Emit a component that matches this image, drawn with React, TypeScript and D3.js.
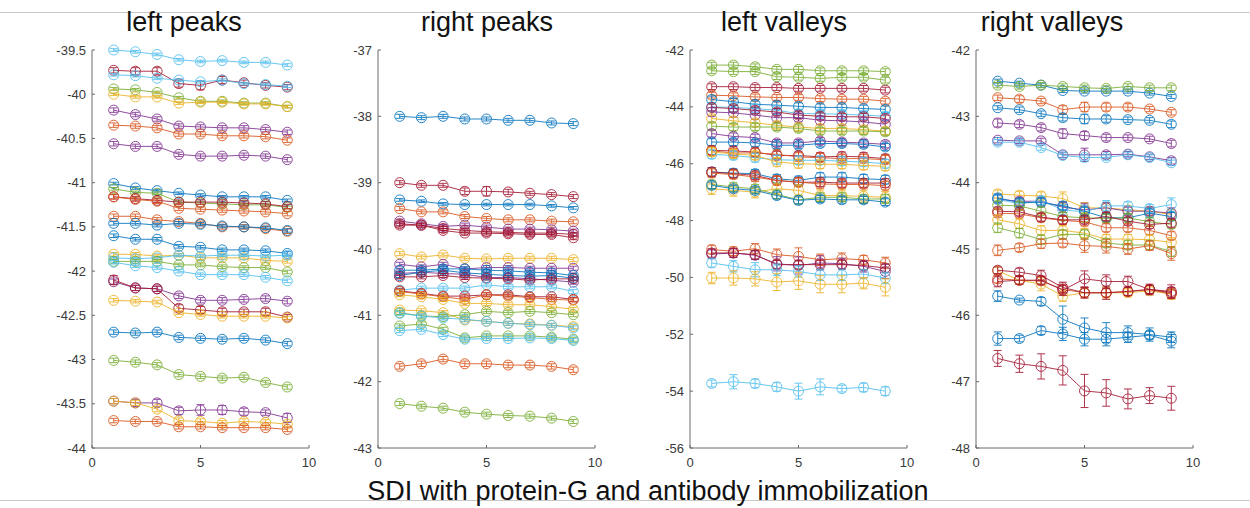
import React from "react";
import * as d3 from "d3";

// MATLAB default line colours
const COLORS: Record<string, string> = {
  b: "#0072BD",
  o: "#D95319",
  y: "#EDB120",
  p: "#7E2F8E",
  g: "#77AC30",
  c: "#4DBEEE",
  r: "#A2142F",
};

type Series = { c: string; v: number[]; e: number | number[] };

const steps = [1, 2, 3, 4, 5, 6, 7, 8, 9];
const xTicks = [0, 5, 10];

const panelTitles = ["left peaks", "right peaks", "left valleys", "right valleys"];
const figureLabel = "SDI with protein-G and antibody immobilization";

const leftPeaksTicks = [-39.5, -40, -40.5, -41, -41.5, -42, -42.5, -43, -43.5, -44];
const rightPeaksTicks = [-37, -38, -39, -40, -41, -42, -43];
const leftValleysTicks = [-42, -44, -46, -48, -50, -52, -54, -56];
const rightValleysTicks = [-42, -43, -44, -45, -46, -47, -48];

const leftPeaks: Series[] = [
  { c: "c", v: [-39.5, -39.52, -39.55, -39.61, -39.63, -39.62, -39.64, -39.64, -39.67], e: 0.015 },
  { c: "r", v: [-39.73, -39.74, -39.74, -39.88, -39.9, -39.84, -39.87, -39.9, -39.92], e: [0.03, 0.04, 0.04, 0.04, 0.05, 0.04, 0.03, 0.03, 0.03] },
  { c: "c", v: [-39.78, -39.79, -39.82, -39.84, -39.86, -39.84, -39.88, -39.89, -39.91], e: 0.015 },
  { c: "g", v: [-39.94, -39.95, -39.98, -40.04, -40.08, -40.08, -40.1, -40.1, -40.14], e: 0.015 },
  { c: "y", v: [-40.0, -40.03, -40.03, -40.1, -40.09, -40.09, -40.11, -40.11, -40.14], e: 0.015 },
  { c: "p", v: [-40.18, -40.23, -40.28, -40.36, -40.37, -40.38, -40.38, -40.4, -40.43], e: 0.025 },
  { c: "o", v: [-40.35, -40.36, -40.38, -40.45, -40.45, -40.47, -40.47, -40.48, -40.52], e: 0.025 },
  { c: "p", v: [-40.56, -40.59, -40.59, -40.68, -40.7, -40.7, -40.69, -40.7, -40.74], e: 0.025 },
  { c: "b", v: [-41.01, -41.06, -41.09, -41.12, -41.14, -41.16, -41.16, -41.16, -41.2], e: 0.015 },
  { c: "g", v: [-41.07, -41.11, -41.12, -41.22, -41.23, -41.24, -41.25, -41.25, -41.28], e: 0.015 },
  { c: "r", v: [-41.16, -41.18, -41.2, -41.22, -41.22, -41.22, -41.23, -41.24, -41.27], e: 0.025 },
  { c: "o", v: [-41.16, -41.19, -41.21, -41.29, -41.3, -41.31, -41.32, -41.33, -41.35], e: 0.025 },
  { c: "o", v: [-41.38, -41.38, -41.42, -41.44, -41.46, -41.5, -41.5, -41.52, -41.55], e: 0.025 },
  { c: "b", v: [-41.46, -41.46, -41.48, -41.46, -41.47, -41.49, -41.5, -41.51, -41.54], e: 0.02 },
  { c: "b", v: [-41.6, -41.64, -41.64, -41.72, -41.73, -41.76, -41.76, -41.77, -41.8], e: 0.02 },
  { c: "y", v: [-41.81, -41.81, -41.83, -41.82, -41.85, -41.85, -41.85, -41.88, -41.89], e: 0.02 },
  { c: "c", v: [-41.85, -41.86, -41.85, -41.82, -41.83, -41.82, -41.82, -41.83, -41.82], e: 0.015 },
  { c: "g", v: [-41.89, -41.89, -41.89, -41.93, -41.93, -41.95, -41.96, -41.96, -42.01], e: 0.02 },
  { c: "c", v: [-41.9, -41.94, -41.96, -42.0, -42.04, -42.04, -42.04, -42.07, -42.11], e: 0.02 },
  { c: "p", v: [-42.12, -42.19, -42.2, -42.28, -42.33, -42.33, -42.32, -42.31, -42.34], e: 0.03 },
  { c: "r", v: [-42.1, -42.19, -42.2, -42.42, -42.44, -42.46, -42.46, -42.46, -42.52], e: [0.05, 0.03, 0.03, 0.04, 0.04, 0.04, 0.03, 0.04, 0.03] },
  { c: "y", v: [-42.33, -42.34, -42.35, -42.47, -42.49, -42.51, -42.51, -42.51, -42.53], e: 0.02 },
  { c: "b", v: [-42.69, -42.7, -42.69, -42.75, -42.76, -42.77, -42.76, -42.78, -42.82], e: 0.025 },
  { c: "g", v: [-43.01, -43.03, -43.06, -43.17, -43.19, -43.21, -43.2, -43.26, -43.31], e: 0.025 },
  { c: "p", v: [-43.47, -43.49, -43.49, -43.58, -43.57, -43.57, -43.59, -43.6, -43.66], e: [0.03, 0.04, 0.04, 0.04, 0.06, 0.05, 0.04, 0.03, 0.05] },
  { c: "y", v: [-43.47, -43.49, -43.56, -43.69, -43.7, -43.72, -43.7, -43.71, -43.73], e: 0.03 },
  { c: "o", v: [-43.69, -43.7, -43.7, -43.76, -43.76, -43.77, -43.77, -43.77, -43.79], e: 0.025 },
];

const rightPeaks: Series[] = [
  { c: "b", v: [-38.0, -38.02, -38.0, -38.04, -38.04, -38.06, -38.06, -38.1, -38.11], e: 0.03 },
  { c: "r", v: [-39.0, -39.04, -39.04, -39.13, -39.13, -39.14, -39.16, -39.18, -39.21], e: [0.03, 0.03, 0.03, 0.05, 0.07, 0.04, 0.03, 0.03, 0.03] },
  { c: "b", v: [-39.26, -39.28, -39.32, -39.33, -39.33, -39.33, -39.33, -39.35, -39.38], e: 0.02 },
  { c: "o", v: [-39.39, -39.44, -39.44, -39.51, -39.54, -39.56, -39.56, -39.58, -39.59], e: 0.03 },
  { c: "p", v: [-39.58, -39.62, -39.66, -39.64, -39.67, -39.7, -39.7, -39.71, -39.73], e: 0.03 },
  { c: "r", v: [-39.62, -39.64, -39.69, -39.72, -39.74, -39.75, -39.76, -39.76, -39.78], e: 0.03 },
  { c: "r", v: [-39.64, -39.64, -39.72, -39.76, -39.76, -39.77, -39.78, -39.78, -39.83], e: 0.03 },
  { c: "y", v: [-40.07, -40.12, -40.09, -40.14, -40.15, -40.14, -40.14, -40.14, -40.16], e: 0.03 },
  { c: "p", v: [-40.23, -40.27, -40.23, -40.3, -40.28, -40.28, -40.29, -40.29, -40.29], e: 0.03 },
  { c: "b", v: [-40.32, -40.32, -40.3, -40.3, -40.32, -40.33, -40.35, -40.36, -40.4], e: 0.03 },
  { c: "p", v: [-40.37, -40.35, -40.37, -40.38, -40.43, -40.43, -40.45, -40.47, -40.5], e: 0.03 },
  { c: "b", v: [-40.4, -40.35, -40.32, -40.36, -40.38, -40.4, -40.41, -40.4, -40.44], e: 0.03 },
  { c: "r", v: [-40.42, -40.42, -40.4, -40.43, -40.44, -40.45, -40.47, -40.45, -40.45], e: 0.03 },
  { c: "c", v: [-40.62, -40.59, -40.59, -40.59, -40.54, -40.57, -40.57, -40.57, -40.64], e: 0.03 },
  { c: "r", v: [-40.63, -40.67, -40.71, -40.71, -40.69, -40.69, -40.72, -40.72, -40.76], e: 0.03 },
  { c: "o", v: [-40.64, -40.68, -40.72, -40.76, -40.69, -40.71, -40.73, -40.76, -40.77], e: 0.03 },
  { c: "y", v: [-40.69, -40.72, -40.76, -40.82, -40.82, -40.84, -40.84, -40.87, -40.91], e: 0.03 },
  { c: "y", v: [-40.92, -40.93, -40.96, -41.07, -41.09, -41.12, -41.13, -41.15, -41.17], e: 0.03 },
  { c: "g", v: [-40.96, -41.01, -41.02, -40.99, -40.94, -40.96, -40.94, -40.96, -40.99], e: 0.03 },
  { c: "c", v: [-40.97, -41.01, -41.04, -41.06, -41.09, -41.12, -41.14, -41.15, -41.19], e: 0.03 },
  { c: "g", v: [-41.16, -41.13, -41.21, -41.34, -41.31, -41.31, -41.31, -41.33, -41.36], e: 0.03 },
  { c: "c", v: [-41.23, -41.21, -41.29, -41.36, -41.35, -41.35, -41.34, -41.35, -41.38], e: 0.03 },
  { c: "o", v: [-41.77, -41.73, -41.66, -41.73, -41.73, -41.75, -41.75, -41.77, -41.82], e: 0.04 },
  { c: "g", v: [-42.33, -42.37, -42.4, -42.46, -42.49, -42.51, -42.52, -42.55, -42.6], e: 0.03 },
];

const leftValleys: Series[] = [
  { c: "g", v: [-42.53, -42.53, -42.59, -42.68, -42.68, -42.73, -42.73, -42.73, -42.76], e: 0.1 },
  { c: "g", v: [-42.73, -42.76, -42.76, -42.94, -42.96, -43.0, -42.96, -42.96, -43.06], e: 0.1 },
  { c: "r", v: [-43.29, -43.29, -43.32, -43.32, -43.35, -43.35, -43.35, -43.35, -43.41], e: 0.1 },
  { c: "o", v: [-43.59, -43.61, -43.65, -43.67, -43.67, -43.71, -43.73, -43.73, -43.8], e: 0.1 },
  { c: "b", v: [-43.74, -43.82, -43.91, -43.94, -43.98, -44.02, -44.02, -44.06, -44.09], e: 0.12 },
  { c: "c", v: [-44.0, -44.02, -44.06, -44.12, -44.24, -44.24, -44.26, -44.29, -44.33], e: 0.15 },
  { c: "r", v: [-44.02, -44.06, -44.12, -44.18, -44.29, -44.33, -44.35, -44.35, -44.41], e: 0.12 },
  { c: "p", v: [-44.18, -44.21, -44.29, -44.38, -44.38, -44.47, -44.49, -44.53, -44.61], e: 0.15 },
  { c: "y", v: [-44.41, -44.49, -44.56, -44.65, -44.71, -44.76, -44.76, -44.8, -44.85], e: 0.12 },
  { c: "g", v: [-44.68, -44.71, -44.71, -44.71, -44.76, -44.85, -44.85, -44.85, -44.88], e: 0.12 },
  { c: "p", v: [-44.94, -45.04, -45.08, -45.27, -45.27, -45.2, -45.24, -45.27, -45.32], e: 0.12 },
  { c: "b", v: [-45.24, -45.24, -45.27, -45.35, -45.35, -45.29, -45.29, -45.32, -45.41], e: 0.12 },
  { c: "r", v: [-45.53, -45.55, -45.59, -45.71, -45.71, -45.76, -45.74, -45.76, -45.82], e: 0.15 },
  { c: "o", v: [-45.55, -45.62, -45.62, -45.67, -45.76, -45.79, -45.82, -45.82, -45.86], e: 0.15 },
  { c: "c", v: [-45.67, -45.71, -45.79, -45.86, -45.88, -45.88, -45.91, -45.94, -46.0], e: 0.15 },
  { c: "y", v: [-45.59, -45.65, -45.71, -45.94, -46.0, -46.02, -46.02, -46.06, -46.09], e: 0.15 },
  { c: "b", v: [-46.29, -46.33, -46.35, -46.53, -46.59, -46.47, -46.47, -46.53, -46.56], e: 0.15 },
  { c: "r", v: [-46.29, -46.35, -46.41, -46.59, -46.65, -46.65, -46.68, -46.68, -46.68], e: 0.15 },
  { c: "o", v: [-46.33, -46.38, -46.47, -46.59, -46.65, -46.71, -46.73, -46.73, -46.77], e: 0.15 },
  { c: "y", v: [-46.88, -46.94, -47.0, -46.88, -46.94, -47.12, -47.12, -47.15, -47.18], e: 0.2 },
  { c: "g", v: [-46.73, -46.82, -46.88, -47.08, -47.27, -47.18, -47.18, -47.24, -47.24], e: 0.15 },
  { c: "b", v: [-46.76, -46.88, -46.94, -47.12, -47.29, -47.24, -47.27, -47.27, -47.35], e: 0.12 },
  { c: "o", v: [-49.02, -49.08, -48.99, -49.2, -49.26, -49.38, -49.34, -49.38, -49.49], e: [0.15, 0.15, 0.18, 0.2, 0.3, 0.2, 0.2, 0.15, 0.2] },
  { c: "p", v: [-49.18, -49.14, -49.22, -49.52, -49.58, -49.49, -49.52, -49.61, -49.79], e: [0.15, 0.15, 0.15, 0.25, 0.3, 0.25, 0.2, 0.2, 0.25] },
  { c: "r", v: [-49.14, -49.14, -49.2, -49.55, -49.55, -49.55, -49.55, -49.58, -49.67], e: 0.15 },
  { c: "c", v: [-49.49, -49.61, -49.73, -49.73, -49.79, -49.91, -49.91, -49.88, -50.02], e: [0.15, 0.2, 0.25, 0.2, 0.2, 0.2, 0.2, 0.15, 0.2] },
  { c: "y", v: [-50.02, -50.02, -50.05, -50.16, -50.12, -50.24, -50.24, -50.2, -50.35], e: [0.2, 0.25, 0.25, 0.3, 0.3, 0.3, 0.3, 0.2, 0.3] },
  { c: "c", v: [-53.73, -53.67, -53.73, -53.85, -54.0, -53.85, -53.91, -53.87, -54.0], e: [0.12, 0.25, 0.15, 0.15, 0.28, 0.28, 0.12, 0.15, 0.15] },
];

const rightValleys: Series[] = [
  { c: "b", v: [-42.47, -42.5, -42.53, -42.61, -42.62, -42.62, -42.62, -42.65, -42.7], e: 0.03 },
  { c: "g", v: [-42.53, -42.55, -42.53, -42.55, -42.57, -42.58, -42.55, -42.57, -42.57], e: 0.04 },
  { c: "o", v: [-42.72, -42.74, -42.77, -42.9, -42.86, -42.86, -42.86, -42.89, -42.94], e: [0.04, 0.05, 0.04, 0.06, 0.07, 0.06, 0.05, 0.04, 0.04] },
  { c: "b", v: [-42.87, -42.9, -42.96, -43.02, -43.04, -43.04, -43.05, -43.06, -43.12], e: [0.03, 0.04, 0.04, 0.05, 0.07, 0.05, 0.04, 0.04, 0.05] },
  { c: "p", v: [-43.1, -43.12, -43.17, -43.26, -43.29, -43.32, -43.32, -43.34, -43.41], e: [0.06, 0.05, 0.05, 0.07, 0.06, 0.05, 0.04, 0.04, 0.05] },
  { c: "p", v: [-43.36, -43.37, -43.37, -43.58, -43.58, -43.58, -43.57, -43.61, -43.67], e: [0.04, 0.04, 0.04, 0.04, 0.1, 0.05, 0.04, 0.04, 0.05] },
  { c: "c", v: [-43.39, -43.39, -43.47, -43.59, -43.62, -43.62, -43.58, -43.62, -43.7], e: 0.04 },
  { c: "y", v: [-44.17, -44.19, -44.2, -44.24, -44.38, -44.38, -44.41, -44.43, -44.48], e: [0.06, 0.06, 0.06, 0.1, 0.08, 0.06, 0.06, 0.06, 0.08] },
  { c: "p", v: [-44.25, -44.28, -44.28, -44.37, -44.41, -44.38, -44.43, -44.43, -44.46], e: [0.06, 0.06, 0.06, 0.08, 0.1, 0.08, 0.06, 0.06, 0.08] },
  { c: "c", v: [-44.25, -44.32, -44.27, -44.41, -44.44, -44.35, -44.35, -44.39, -44.33], e: [0.06, 0.06, 0.06, 0.08, 0.1, 0.08, 0.06, 0.06, 0.1] },
  { c: "b", v: [-44.23, -44.3, -44.3, -44.35, -44.43, -44.53, -44.53, -44.46, -44.51], e: 0.06 },
  { c: "g", v: [-44.34, -44.35, -44.43, -44.51, -44.53, -44.54, -44.53, -44.59, -44.63], e: 0.06 },
  { c: "o", v: [-44.46, -44.47, -44.53, -44.57, -44.59, -44.68, -44.68, -44.72, -44.8], e: 0.06 },
  { c: "r", v: [-44.43, -44.44, -44.52, -44.56, -44.56, -44.51, -44.58, -44.63, -44.61], e: 0.06 },
  { c: "y", v: [-44.56, -44.62, -44.72, -44.72, -44.76, -44.85, -44.85, -44.86, -44.9], e: 0.07 },
  { c: "g", v: [-44.68, -44.76, -44.86, -44.78, -44.78, -44.91, -44.94, -44.94, -45.04], e: 0.07 },
  { c: "o", v: [-45.02, -44.98, -44.92, -44.91, -44.95, -44.96, -45.0, -44.95, -45.07], e: [0.08, 0.06, 0.07, 0.06, 0.1, 0.1, 0.08, 0.07, 0.1] },
  { c: "y", v: [-45.33, -45.47, -45.53, -45.71, -45.66, -45.66, -45.66, -45.63, -45.68], e: [0.06, 0.06, 0.1, 0.08, 0.08, 0.08, 0.06, 0.06, 0.08] },
  { c: "o", v: [-45.45, -45.47, -45.48, -45.61, -45.66, -45.66, -45.64, -45.61, -45.68], e: 0.06 },
  { c: "r", v: [-45.32, -45.35, -45.4, -45.58, -45.66, -45.66, -45.64, -45.61, -45.66], e: [0.05, 0.06, 0.08, 0.08, 0.08, 0.1, 0.06, 0.06, 0.08] },
  { c: "r", v: [-45.49, -45.47, -45.47, -45.62, -45.45, -45.49, -45.49, -45.61, -45.64], e: [0.08, 0.06, 0.06, 0.08, 0.12, 0.1, 0.08, 0.08, 0.1] },
  { c: "b", v: [-45.71, -45.77, -45.79, -46.06, -46.19, -46.26, -46.26, -46.29, -46.33], e: [0.08, 0.03, 0.06, 0.2, 0.15, 0.15, 0.1, 0.1, 0.08] },
  { c: "b", v: [-46.35, -46.35, -46.23, -46.28, -46.36, -46.36, -46.33, -46.3, -46.39], e: [0.1, 0.05, 0.06, 0.1, 0.1, 0.1, 0.08, 0.06, 0.1] },
  { c: "r", v: [-46.65, -46.73, -46.77, -46.83, -47.14, -47.17, -47.26, -47.21, -47.25], e: [0.12, 0.13, 0.19, 0.22, 0.25, 0.2, 0.15, 0.12, 0.18] },
];

type Panel = {
  title: string;
  titleX: number;
  left: number;
  yDomain: [number, number];
  yTicks: number[];
  series: Series[];
};

const W = 1250;
const H = 508;
const TOP = 50;
const BOTTOM = 448;
const AXW = 217;

const panels: Panel[] = [
  { title: panelTitles[0], titleX: 184, left: 92, yDomain: [-44, -39.5], yTicks: leftPeaksTicks, series: leftPeaks },
  { title: panelTitles[1], titleX: 487, left: 378, yDomain: [-43, -37], yTicks: rightPeaksTicks, series: rightPeaks },
  { title: panelTitles[2], titleX: 784, left: 690, yDomain: [-56, -42], yTicks: leftValleysTicks, series: leftValleys },
  { title: panelTitles[3], titleX: 1052, left: 976, yDomain: [-48, -42], yTicks: rightValleysTicks, series: rightValleys },
];

const FONT = "'Liberation Sans', Arial, Helvetica, sans-serif";
const AXIS_COLOR = "#6a6a6a";
const TICK_TEXT = "#3a3a3a";

function fmt(v: number) {
  return String(v);
}

function PanelView({ p }: { p: Panel }) {
  const x = d3.scaleLinear().domain([0, 10]).range([p.left, p.left + AXW]);
  const y = d3.scaleLinear().domain(p.yDomain).range([BOTTOM, TOP]);
  const line = d3
    .line<number>()
    .x((_, i) => x(steps[i]))
    .y((d) => y(d));
  const cap = 4;
  return (
    <g>
      <text x={p.titleX} y={31} textAnchor="middle" fontFamily={FONT} fontSize={27} fill="#111">
        {p.title}
      </text>
      {/* axes */}
      <line x1={p.left} x2={p.left} y1={TOP} y2={BOTTOM} stroke={AXIS_COLOR} strokeWidth={1} />
      <line x1={p.left} x2={p.left + AXW} y1={BOTTOM} y2={BOTTOM} stroke={AXIS_COLOR} strokeWidth={1} />
      {p.yTicks.map((t) => (
        <g key={"y" + t}>
          <line x1={p.left} x2={p.left + 3} y1={y(t)} y2={y(t)} stroke={AXIS_COLOR} />
          <text x={p.left - 6} y={y(t)} dy="0.35em" textAnchor="end" fontFamily={FONT} fontSize={13} fill={TICK_TEXT}>
            {fmt(t)}
          </text>
        </g>
      ))}
      {xTicks.map((t) => (
        <g key={"x" + t}>
          <line x1={x(t)} x2={x(t)} y1={BOTTOM} y2={BOTTOM - 3} stroke={AXIS_COLOR} />
          <text x={x(t)} y={BOTTOM + 19} textAnchor="middle" fontFamily={FONT} fontSize={13} fill={TICK_TEXT}>
            {t}
          </text>
        </g>
      ))}
      {/* series */}
      {p.series.map((s, si) => {
        const col = COLORS[s.c];
        return (
          <g key={si} stroke={col} fill="none" strokeWidth={1} opacity={0.85}>
            <path d={line(s.v) || ""} />
            {s.v.map((v, i) => {
              const e = Array.isArray(s.e) ? s.e[i] : s.e;
              const cx = x(steps[i]);
              const y1 = y(v + e);
              const y2 = y(v - e);
              return (
                <g key={i}>
                  <line x1={cx} x2={cx} y1={y1} y2={y2} />
                  <line x1={cx - cap} x2={cx + cap} y1={y1} y2={y1} />
                  <line x1={cx - cap} x2={cx + cap} y1={y2} y2={y2} />
                  <circle cx={cx} cy={y(v)} r={5} />
                </g>
              );
            })}
          </g>
        );
      })}
    </g>
  );
}

export default function App() {
  return (
    <svg
      width={W}
      height={H}
      viewBox={`0 0 ${W} ${H}`}
      style={{ position: "absolute", left: 0, top: 0, background: "#fff" }}
    >
      <rect x={0} y={0} width={W} height={H} fill="#fff" />
      <line x1={0} x2={W} y1={12.5} y2={12.5} stroke="#c8c8c8" strokeWidth={1} />
      <line x1={0} x2={W} y1={500.5} y2={500.5} stroke="#c8c8c8" strokeWidth={1} />
      {panels.map((p, i) => (
        <PanelView key={i} p={p} />
      ))}
      <text x={648} y={500} textAnchor="middle" fontFamily={FONT} fontSize={27} fill="#111">
        {figureLabel}
      </text>
    </svg>
  );
}
